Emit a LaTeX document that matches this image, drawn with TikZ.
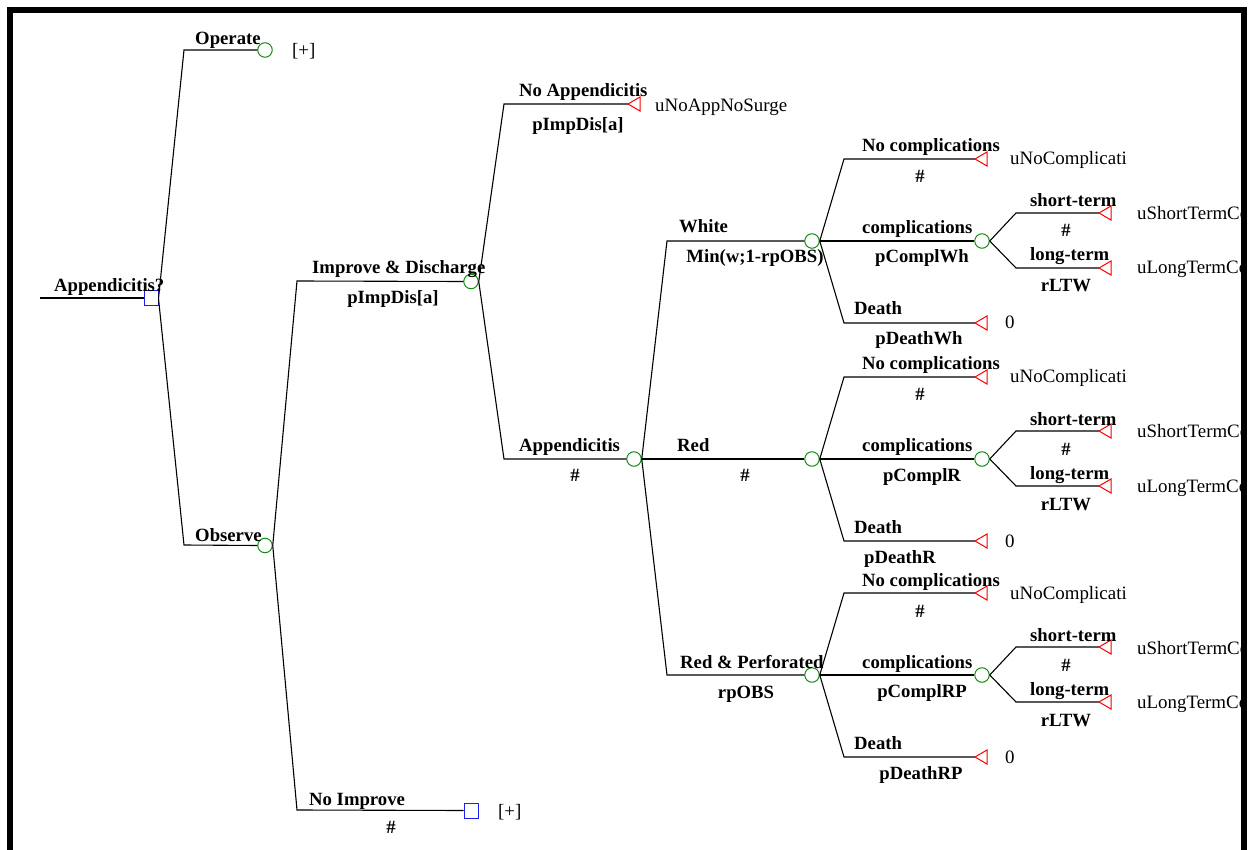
\documentclass[tikz,border=0pt]{standalone}
\usepackage{fontspec}
\setmainfont{Liberation Serif}
\definecolor{tgreen}{RGB}{20,140,20}
\definecolor{tblue}{RGB}{30,30,240}
\definecolor{tred}{RGB}{250,0,0}
\newcommand\termtri[1]{\draw[term] (#1) -- ++(12,-7) -- ++(0,14) -- cycle;}
\begin{document}
\begin{tikzpicture}[x=1pt,y=-1pt,
  edge/.style={line width=1.1pt,black},
  chance/.style={circle,draw=tgreen,line width=1pt,minimum size=14.5pt,inner sep=0pt},
  dec/.style={rectangle,draw=tblue,line width=1pt,minimum width=14pt,minimum height=15pt,inner sep=0pt},
  term/.style={draw=tred,line width=1pt},
  lab/.style={font=\fontsize{18.7}{20}\selectfont\bfseries,inner sep=0pt,anchor=base west},
  blab/.style={font=\fontsize{18.7}{20}\selectfont\bfseries,inner sep=0pt,anchor=base},
  val/.style={font=\fontsize{18.9}{20}\selectfont,inner sep=0pt,anchor=base west}]
\useasboundingbox (0,0) rectangle (1254,850);
\fill[white] (0,0) rectangle (1254,850);

% root
\coordinate (rs) at (40,298);
\node[dec] (D0) at (151,298.5) {};
\draw[edge] (rs) -- (D0.west |- rs);
\node[lab] (lRoot) at (54,292) {Appendicitis?};

% Operate
\coordinate (fOp) at (184,50);
\node[chance] (cOp) at (265,50) {};
\draw[edge] (D0.east) -- (fOp) -- (cOp.west);
\node[lab] (lOp) at (195,45) {Operate};
\node[val] (vOp) at (292,57) {[+]};

% Observe
\coordinate (fOb) at (184,545);
\node[chance] (cOb) at (265,545.5) {};
\draw[edge] (D0.east) -- (fOb) -- (cOb.west);
\node[lab] (lOb) at (195,541) {Observe};

% Improve & Discharge
\coordinate (fIm) at (297,281);
\node[chance] (cIm) at (471,281.5) {};
\draw[edge] (cOb.east) -- (fIm) -- (cIm.west);
\node[lab] (lIm) at (312,274) {Improve \& Discharge};
\node[blab] (pIm) at (393,304) {pImpDis[a]};

% No Improve
\coordinate (fNI) at (297,810);
\node[dec] (dNI) at (471,810.5) {};
\draw[edge] (cOb.east) -- (fNI) -- (dNI.west);
\node[lab] (lNI) at (309,805) {No Improve};
\node[blab] (pNI) at (391,833) {\#};
\node[val] (vNI) at (498,817) {[+]};

% No Appendicitis
\coordinate (fNA) at (504,104);
\coordinate (tNA) at (628,104);
\draw[edge] (cIm.east) -- (fNA) -- (tNA);
\termtri{tNA}
\node[lab] (lNA) at (519,97) {No Appendicitis};
\node[blab] (pNA) at (578,131) {pImpDis[a]};
\node[val] (vNA) at (655,112) {uNoAppNoSurge};

% Appendicitis
\coordinate (fAp) at (504,459);
\node[chance] (cAp) at (634,459) {};
\draw[edge] (cIm.east) -- (fAp) -- (cAp.west);
\node[lab] (lAp) at (519,451) {Appendicitis};
\node[blab] (pAp) at (575,482) {\#};

% White / Red / Red & Perforated
\coordinate (fW) at (667,241);
\node[chance] (cW) at (812,241) {};
\draw[edge] (cAp.east) -- (fW) -- (cW.west);
\node[lab] (lW) at (679,233) {White};
\node[blab] (pW) at (755,263) {Min(w;1-rpOBS)};

\coordinate (fR) at (667,459);
\node[chance] (cR) at (812,459) {};
\draw[edge] (cAp.east) -- (fR) -- (cR.west);
\node[lab] (lR) at (677,451) {Red};
\node[blab] (pR) at (745,482) {\#};

\coordinate (fP) at (667,675);
\node[chance] (cP) at (812,675) {};
\draw[edge] (cAp.east) -- (fP) -- (cP.west);
\node[lab] (lP) at (680,668) {Red \& Perforated};
\node[blab] (pP) at (746,698) {rpOBS};

% sub-blocks
\foreach \s/\Y/\pc/\pd/\dc in {W/241/pComplWh/pDeathWh/919, R/459/pComplR/pDeathR/900, P/675/pComplRP/pDeathRP/921}{
  % no complications
  \coordinate (fNC\s) at (844,\Y-82);
  \coordinate (tNC\s) at (975,\Y-82);
  \draw[edge] (c\s.east) -- (fNC\s) -- (tNC\s);
  \termtri{tNC\s}
  \node[lab] at (862,\Y-89) {No complications};
  \node[blab] at (920,\Y-58) {\#};
  \node[val] at (1010,\Y-76) {uNoComplicati};
  % complications
  \coordinate (fCO\s) at (844,\Y);
  \node[chance] (cCO\s) at (982,\Y) {};
  \draw[edge] (c\s.east) -- (fCO\s) -- (cCO\s.west);
  \node[lab] at (862,\Y-7) {complications};
  \node[blab] at (922,\Y+22) {\pc};
  % death
  \coordinate (fDE\s) at (844,\Y+82);
  \coordinate (tDE\s) at (975,\Y+82);
  \draw[edge] (c\s.east) -- (fDE\s) -- (tDE\s);
  \termtri{tDE\s}
  \node[lab] at (854,\Y+74) {Death};
  \node[blab] at (\dc,\Y+104) {\pd};
  \node[val] at (1005,\Y+88) {0};
  % short-term
  \coordinate (fST\s) at (1016,\Y-28);
  \coordinate (tST\s) at (1099,\Y-28);
  \draw[edge] (cCO\s.east) -- (fST\s) -- (tST\s);
  \termtri{tST\s}
  \node[lab] at (1030,\Y-34) {short-term};
  \node[blab] at (1066,\Y-4) {\#};
  \node[val] at (1137,\Y-21) {uShortTermCo};
  % long-term
  \coordinate (fLT\s) at (1016,\Y+27);
  \coordinate (tLT\s) at (1099,\Y+27);
  \draw[edge] (cCO\s.east) -- (fLT\s) -- (tLT\s);
  \termtri{tLT\s}
  \node[lab] at (1030,\Y+20) {long-term};
  \node[blab] at (1066,\Y+51) {rLTW};
  \node[val] at (1137,\Y+33) {uLongTermCo};
}

% frame
\fill[white] (1241,13) rectangle (1254,850);
\draw[line width=6pt,line join=miter] (10,850) -- (10,10) -- (1244,10) -- (1244,850);
\end{tikzpicture}
\end{document}
